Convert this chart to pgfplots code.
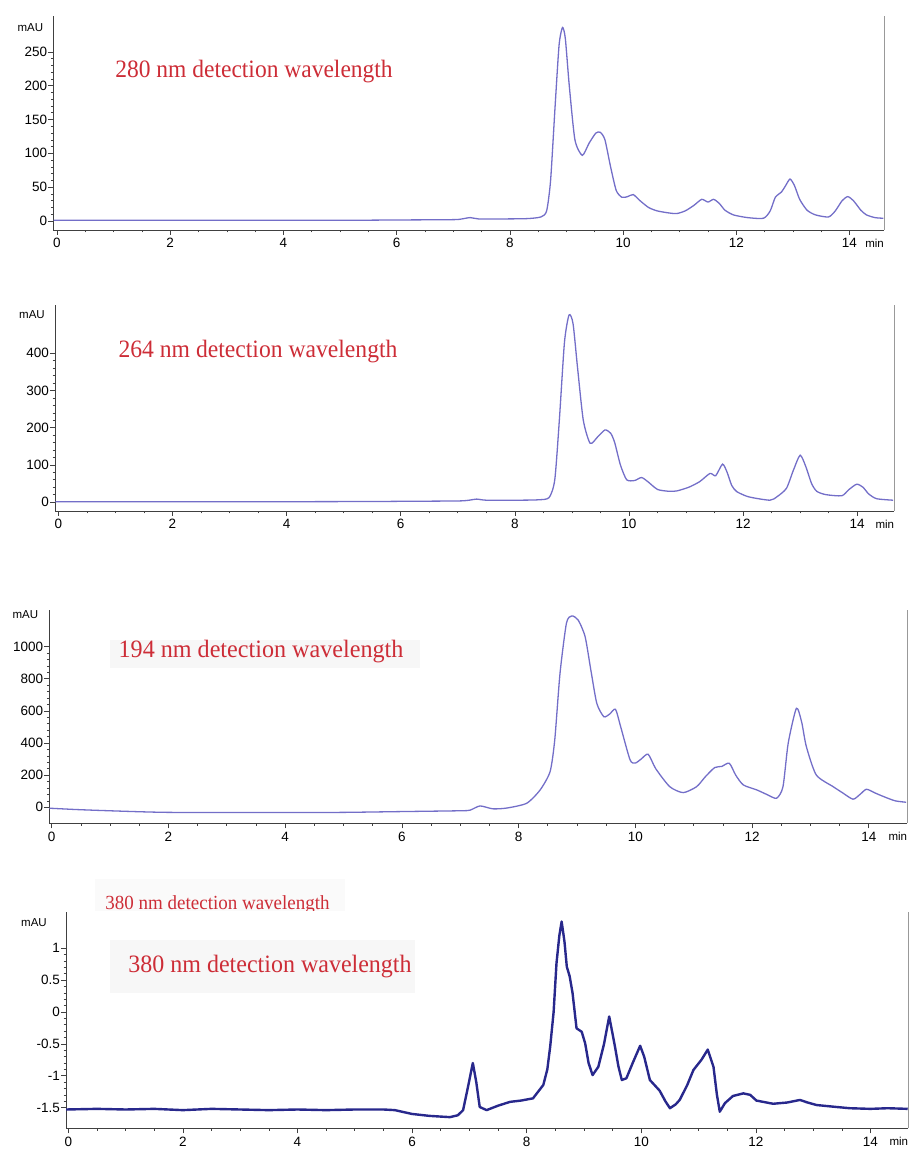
\documentclass[border=0pt]{standalone}
\usepackage{pgfplots}
\pgfplotsset{compat=1.18}
\usepackage{fontspec}
\setmainfont{Liberation Sans}
\newfontfamily\titleserif{Liberation Serif}
\definecolor{trace}{RGB}{115,110,200}
\definecolor{navytrace}{RGB}{40,40,140}
\definecolor{titlered}{RGB}{205,45,55}

\pgfplotsset{
  chrom/.style={
    scale only axis,
    axis x line*=bottom, axis y line*=left,
    axis line style={-, black!75, line width=0.8pt},
    tick align=outside,
    major tick length=5pt, minor tick length=2.5pt,
    tick style={black!75, line width=0.6pt},
    xtick={0,2,...,14},
    minor x tick num=3, minor y tick num=4,
    ticklabel style={font=\fontsize{13.5}{13.5}\selectfont},
    yticklabel style={inner sep=1pt},
    /pgf/number format/assume math mode=true,
    /pgf/number format/1000 sep={},
    every axis plot/.append style={line width=1.3pt, trace, no marks},
  },
}
\tikzset{
  ttl/.style={titlered, font=\titleserif\fontsize{25}{25}\selectfont},
  unit/.style={font=\fontsize{11.5}{12}\selectfont},
}

\begin{document}
\begin{tikzpicture}
\useasboundingbox (0,0) rectangle (909pt,1154pt);

% 280 nm
\begin{axis}[chrom, name=p1, at={(53.3pt,924pt)},
  width=830.7pt, height=214pt,
  xmin=-0.065, xmax=14.61, ymin=-13.3, ymax=303,
  ytick={0,50,...,250}]
\addplot[smooth, tension=0.4] coordinates {
(-0.06,1)(1,1)(3,1)(5,1)(6,1.5)(7,2)(7.15,3)(7.3,5)(7.45,3)(7.8,3)(8.3,3.5)
(8.55,6)(8.65,15)(8.72,60)(8.8,170)(8.87,260)(8.93,286)(8.98,270)(9.05,200)
(9.15,120)(9.28,97)(9.4,115)(9.52,130)(9.6,131)(9.68,120)(9.78,80)(9.88,45)
(9.98,35)(10.08,36)(10.18,39)(10.3,30)(10.45,20)(10.6,15)(10.8,12)(10.95,11)
(11.1,15)(11.25,23)(11.39,32)(11.5,28)(11.6,32)(11.7,26)(11.8,16)(11.95,9)
(12.2,5)(12.48,4)(12.6,15)(12.69,35)(12.8,43)(12.87,52)(12.95,62)(13.03,52)
(13.12,32)(13.25,16)(13.4,9)(13.63,6)(13.75,15)(13.87,30)(13.97,36)(14.07,30)
(14.2,16)(14.3,9)(14.45,5)(14.6,4)
};
\end{axis}

% 264 nm
\begin{axis}[chrom, name=p2, at={(55pt,643pt)},
  width=839.3pt, height=206pt,
  xmin=-0.058, xmax=14.65, ymin=-24, ymax=530,
  ytick={0,100,...,400}]
\addplot[smooth, tension=0.4] coordinates {
(-0.05,1)(2,1)(4,1)(5.5,1.5)(6,2)(7,3)(7.2,5)(7.33,8)(7.5,5)(8,5)(8.4,6)
(8.6,12)(8.7,60)(8.78,220)(8.87,430)(8.95,503)(9.02,480)(9.1,360)(9.2,220)
(9.32,158)(9.45,175)(9.58,194)(9.68,185)(9.75,160)(9.85,100)(9.96,60)
(10.1,58)(10.22,66)(10.33,55)(10.5,34)(10.7,29)(10.84,30)(11.05,40)
(11.24,55)(11.42,77)(11.52,71)(11.64,102)(11.72,80)(11.8,45)(11.89,28)
(12.1,14)(12.47,5)(12.6,15)(12.76,37)(12.88,85)(13,126)(13.1,95)(13.2,50)
(13.29,29)(13.45,20)(13.73,17)(13.85,33)(13.99,48)(14.1,40)(14.2,22)
(14.34,9)(14.63,5)
};
\end{axis}

% 194 nm
\begin{axis}[chrom, name=p3, at={(49.3pt,330.7pt)},
  width=858pt, height=213.3pt,
  xmin=-0.04, xmax=14.66, ymin=-100, ymax=1228,
  ytick={0,200,...,1000}]
\addplot[smooth, tension=0.4] coordinates {
(-0.04,-6)(0.4,-14)(0.83,-20)(1.5,-28)(2,-32)(3,-33)(4,-33)(5,-32)(6,-27)
(7,-22)(7.17,-18)(7.34,8)(7.56,-10)(7.8,-5)(8.14,25)(8.37,108)(8.54,222)
(8.62,420)(8.71,834)(8.82,1146)(8.91,1191)(9.02,1166)(9.14,1062)(9.24,850)
(9.34,647)(9.46,564)(9.56,580)(9.66,610)(9.75,500)(9.91,295)(10.0,275)
(10.1,300)(10.22,330)(10.35,240)(10.59,128)(10.82,91)(11.05,128)(11.2,190)
(11.36,247)(11.48,254)(11.61,274)(11.72,200)(11.85,139)(12.08,108)
(12.25,80)(12.42,56)(12.53,128)(12.62,400)(12.76,616)(12.85,530)(12.93,378)
(13.1,201)(13.39,128)(13.55,90)(13.73,50)(13.85,80)(13.96,112)(14.1,90)
(14.25,67)(14.45,40)(14.64,31)
};
\end{axis}

% 380 nm
\begin{axis}[chrom, name=p4, at={(66pt,25.7pt)},
  width=842.3pt, height=216.6pt,
  xmin=-0.04, xmax=14.66, ymin=-1.825, ymax=1.574,
  ytick={-1.5,-1,...,1}, yticklabels={-1.5,-1,-0.5,0,0.5,1}]
\addplot[navytrace, line width=2.4pt, line join=round] coordinates {
(-0.04,-1.53)(0.5,-1.52)(1,-1.53)(1.5,-1.52)(2,-1.54)(2.5,-1.52)(3,-1.53)
(3.5,-1.54)(4,-1.53)(4.5,-1.54)(5,-1.53)(5.5,-1.53)(5.7,-1.54)(6.0,-1.6)
(6.3,-1.63)(6.66,-1.65)(6.8,-1.62)(6.89,-1.54)(6.97,-1.2)(7.06,-0.8)
(7.12,-1.1)(7.18,-1.49)(7.3,-1.54)(7.5,-1.47)(7.71,-1.41)(7.9,-1.39)
(8.11,-1.355)(8.29,-1.145)(8.36,-0.9)(8.41,-0.544)(8.47,0.0)(8.52,0.764)
(8.57,1.2)(8.61,1.42)(8.66,1.1)(8.70,0.711)(8.75,0.56)(8.8,0.3)(8.87,-0.256)
(8.96,-0.31)(9.02,-0.49)(9.08,-0.8)(9.15,-0.99)(9.25,-0.86)(9.35,-0.5)
(9.44,-0.07)(9.5,-0.35)(9.54,-0.54)(9.6,-0.85)(9.66,-1.067)(9.74,-1.04)
(9.85,-0.8)(9.98,-0.53)(10.05,-0.7)(10.15,-1.067)(10.32,-1.234)(10.42,-1.4)
(10.50,-1.51)(10.6,-1.45)(10.67,-1.38)(10.8,-1.15)(10.91,-0.91)(11.05,-0.75)
(11.16,-0.59)(11.26,-0.86)(11.32,-1.3)(11.37,-1.564)(11.46,-1.43)
(11.6,-1.318)(11.78,-1.277)(11.9,-1.3)(12.01,-1.39)(12.3,-1.44)(12.55,-1.42)
(12.77,-1.38)(12.9,-1.42)(13.06,-1.46)(13.4,-1.49)(13.64,-1.51)(14,-1.52)
(14.3,-1.51)(14.65,-1.52)
};
\end{axis}

% right-hand frame lines, units
\foreach \p in {p1,p2,p3,p4}{
  \draw[black!40, line width=1pt] (\p.south east) -- (\p.north east);
  \node[unit, anchor=north east, inner sep=0pt] at ([yshift=-9pt]\p.south east) {min};
}
\node[unit, anchor=east, inner sep=0pt] at ([xshift=-10pt,yshift=-12pt]p1.north west) {mAU};
\node[unit, anchor=east, inner sep=0pt] at ([xshift=-10pt,yshift=-10pt]p2.north west) {mAU};
\node[unit, anchor=east, inner sep=0pt] at ([xshift=-11pt,yshift=-5pt]p3.north west) {mAU};
\node[unit, anchor=east, inner sep=0pt] at ([xshift=-19pt,yshift=-11pt]p4.north west) {mAU};

% titles
\node[ttl, xscale=0.94] at (254pt,1082pt) {280 nm detection wavelength};
\node[ttl, xscale=0.945] at (258pt,802pt) {264 nm detection wavelength};
\fill[black!3] (110pt,486pt) rectangle (420pt,514pt);
\node[ttl, xscale=0.965] at (261pt,502pt) {194 nm detection wavelength};
\fill[black!3] (110pt,161pt) rectangle (415pt,214pt);
\node[ttl, xscale=0.96] at (270pt,187pt) {380 nm detection wavelength};
\begin{scope}
  \clip (90pt,243pt) rectangle (360pt,275pt);
  \fill[black!2] (95pt,243pt) rectangle (345pt,275pt);
  \node[titlered, font=\titleserif\fontsize{20}{20}\selectfont, xscale=0.95,
        anchor=base] at (217.5pt,244pt) {380 nm detection wavelength};
\end{scope}
\end{tikzpicture}
\end{document}
